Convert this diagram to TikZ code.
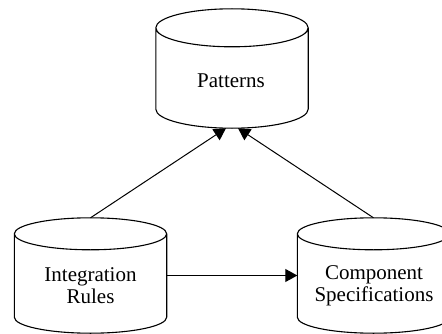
\documentclass[tikz,border=0pt]{standalone}
\usepackage{fontspec}
\setmainfont{Liberation Serif}
\usetikzlibrary{positioning,arrows.meta,calc}

% outline of a drum round a named node; #2 is the depth of its caps
\newcommand\drawdrum[2]{%
  \draw[drum] let \p1=(#1.north west), \p2=(#1.south east),
      \n1={(\x2-\x1)/2} in
    (\x1,\y1-#2) arc[start angle=180,end angle=0,x radius=\n1,y radius=#2]
    -- (\x2,\y2+#2) arc[start angle=0,end angle=-180,x radius=\n1,y radius=#2]
    -- cycle
    (\x1,\y1-#2) arc[start angle=180,end angle=360,x radius=\n1,y radius=#2];
}

\begin{document}
\begin{tikzpicture}[x=1pt,y=1pt,
    store/.style={inner sep=0pt,minimum width=152pt,minimum height=119pt},
    drum/.style={line width=1.1pt,line join=round},
    lbl/.style={font=\fontsize{21}{22}\selectfont,align=center},
    link/.style={line width=1pt,-{Triangle[length=12pt,width=13pt]}}]
  \useasboundingbox (0,0) rectangle (442,333);
  % the three stores
  \node[store] (pat) at (232,264.5) {};
  \node[store,minimum height=115pt] (ir) at (90.5,57.5) {};
  \node[store,minimum height=115pt] (cs) at (373.5,57.5) {};
  \drawdrum{pat}{19pt}
  \drawdrum{ir}{16pt}
  \drawdrum{cs}{16pt}
  % their names, set a bit below the middle
  \node[lbl] (patname) at (231,252.6) {Patterns};
  \node[lbl] (irname) at (90.5,47) {Integration\\Rules};
  \node[lbl] (csname) at (374,47) {Component\\Specifications};
  % links
  \draw[link] (ir) -- (cs);
  \draw[link] (ir.north) -- ([xshift=-6pt]pat.south);
  \draw[link] (cs.north) -- ([xshift=6pt]pat.south);
\end{tikzpicture}
\end{document}
